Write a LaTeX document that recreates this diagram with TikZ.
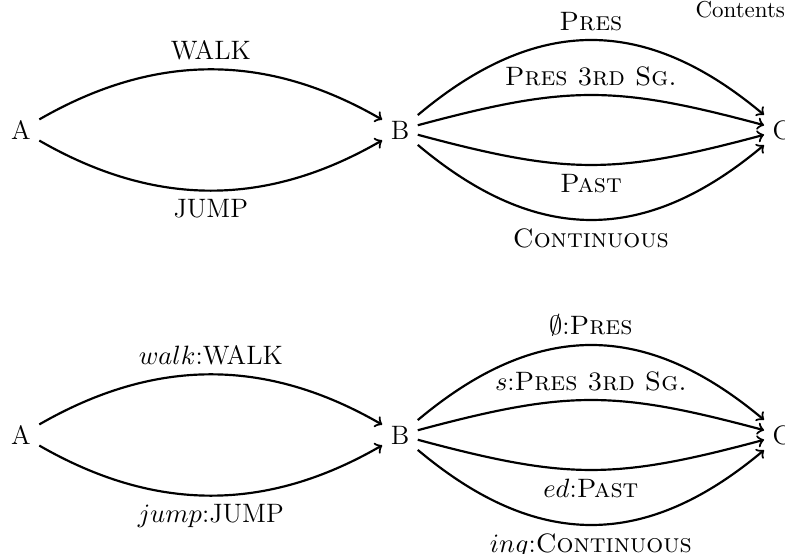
\documentclass[tikz,border=0pt]{standalone}
\usepackage{amssymb}
\begin{document}
\begin{tikzpicture}[x=0.4132pt,y=0.4132pt,
  every node/.style={font=\fontsize{11}{13.6}\selectfont},
  state/.style={inner sep=3.33pt},
  arc/.style={->,line width=0.9pt},
  lab/.style={inner sep=3.33pt}]
\useasboundingbox (0,0) rectangle (785,554);
% top row
\node[state] (A1) at (21,424) {A};
\node[state] (B1) at (400,424) {B};
\node[state] (C1) at (782,424) {C};
\draw[arc] (A1) to[bend left=30] node[lab,above] {WALK} (B1);
\draw[arc] (A1) to[bend right=30] node[lab,below] {JUMP} (B1);
\draw[arc] (B1) to[bend left=40,looseness=1.15] node[lab,above] {\textsc{Pres}} (C1);
\draw[arc] (B1) to[bend left=15,looseness=1.15] node[lab,above] {\textsc{Pres 3rd Sg.}} (C1);
\draw[arc] (B1) to[bend right=15,looseness=1.15] node[lab,below] {\textsc{Past}} (C1);
\draw[arc] (B1) to[bend right=40,looseness=1.15] node[lab,below] {\textsc{Continuous}} (C1);
% bottom row
\node[state] (A2) at (21,119) {A};
\node[state] (B2) at (400,119) {B};
\node[state] (C2) at (782,119) {C};
\draw[arc] (A2) to[bend left=30] node[lab,above] {$walk$:WALK} (B2);
\draw[arc] (A2) to[bend right=30] node[lab,below] {$jump$:JUMP} (B2);
\draw[arc] (B2) to[bend left=40,looseness=1.15] node[lab,above] {$\emptyset$:\textsc{Pres}} (C2);
\draw[arc] (B2) to[bend left=15,looseness=1.15] node[lab,above] {$s$:\textsc{Pres 3rd Sg.}} (C2);
\draw[arc] (B2) to[bend right=15,looseness=1.15] node[lab,below] {$ed$:\textsc{Past}} (C2);
\draw[arc] (B2) to[bend right=40,looseness=1.15] node[lab,below] {$ing$:\textsc{Continuous}} (C2);
% stray text
\node[font=\fontsize{9.5}{11}\selectfont, anchor=base west, inner sep=0pt] (ct) at (695,536) {Contents};
\end{tikzpicture}
\end{document}
